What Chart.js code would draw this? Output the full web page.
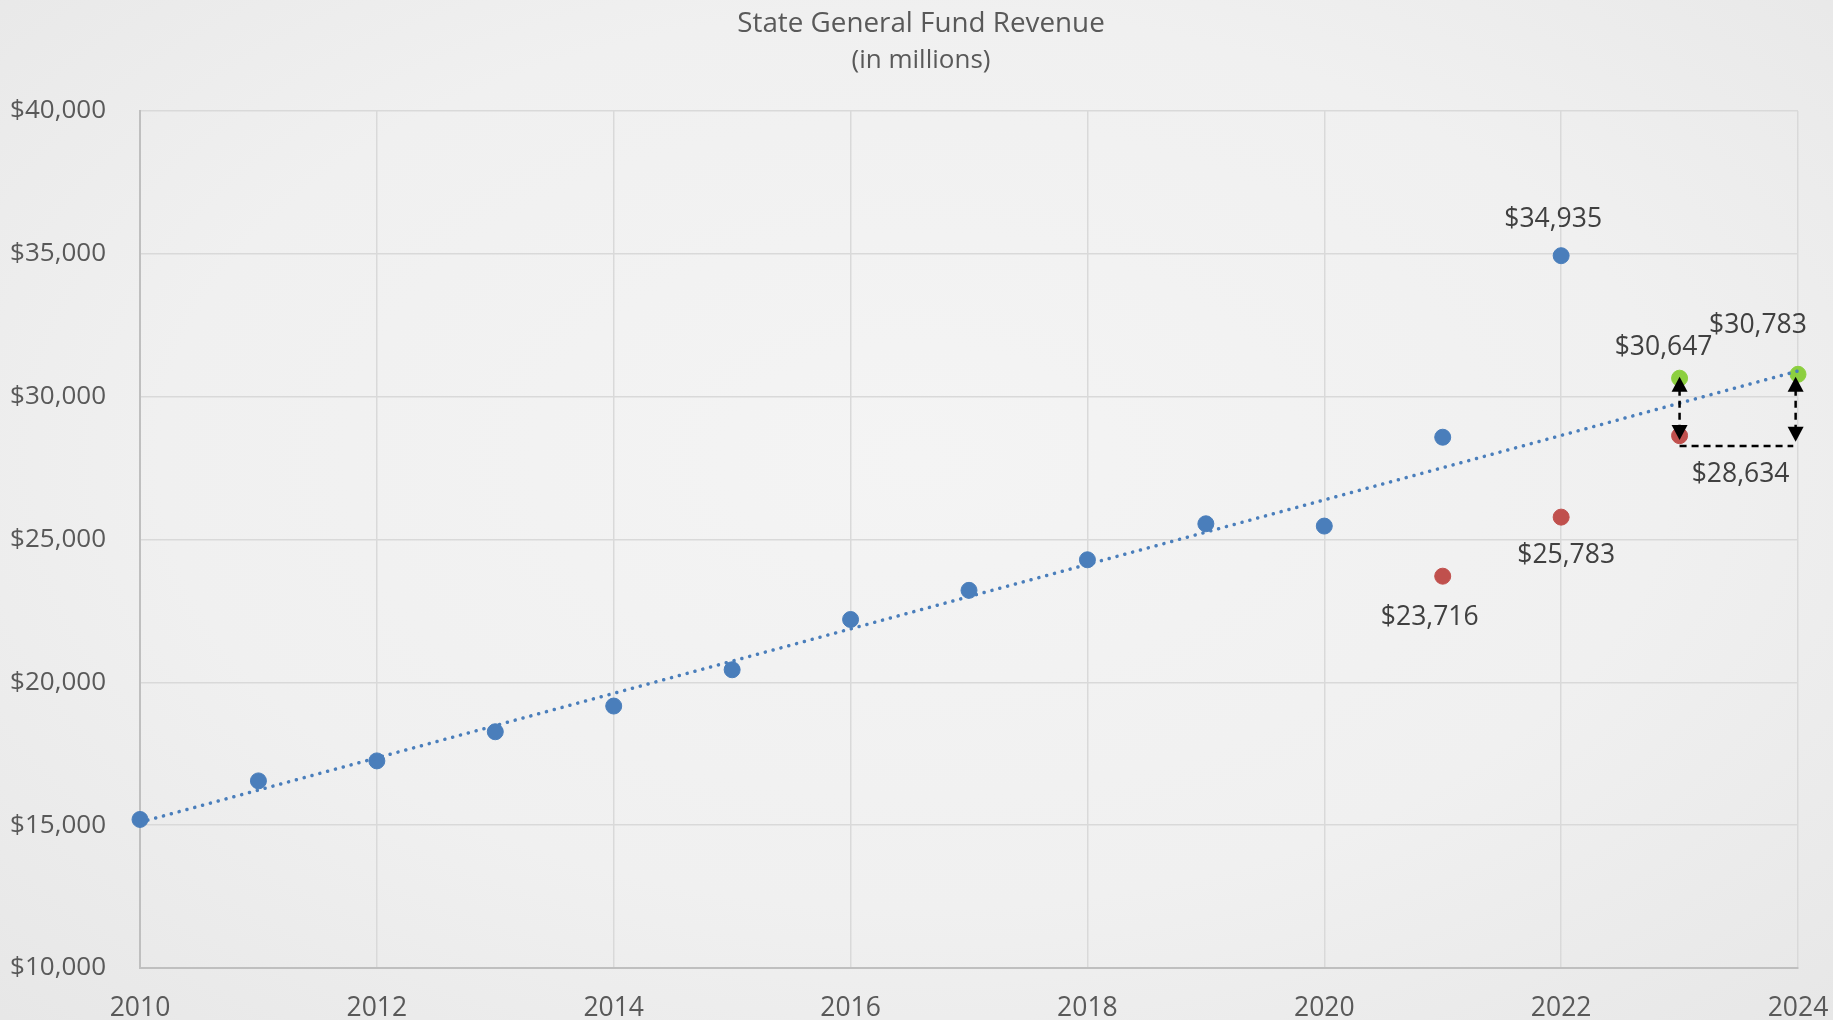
<!DOCTYPE html>
<html>
<head>
<meta charset="utf-8">
<script src="https://cdn.jsdelivr.net/npm/chart.js@4.4.1/dist/chart.umd.min.js"></script>
<style>
  html, body { margin: 0; padding: 0; }
  body {
    width: 1833px; height: 1020px; overflow: hidden;
    background: radial-gradient(ellipse 75% 80% at 50% 45%, #f4f4f4 0%, #f0f0f0 55%, #e6e6e6 100%);
  }
  #wrap { position: relative; width: 1833px; height: 1020px; }
</style>
</head>
<body>
<div id="wrap"><canvas id="c" width="1833" height="1020"></canvas></div>
<script>
// ---- Data ----
const chartTitle = 'State General Fund Revenue';
const chartSubtitle = '(in millions)';
const actualYears = [2010, 2011, 2012, 2013, 2014, 2015, 2016, 2017, 2018, 2019, 2020, 2021, 2022];
const actualRevenue = [15200, 16550, 17250, 18270, 19170, 20440, 22200, 23220, 24290, 25550, 25470, 28580, 34935];
const lowYears = [2021, 2022, 2023];
const lowRevenue = [23716, 25783, 28634];
const highYears = [2023, 2024];
const highRevenue = [30647, 30783];
const trendYears = [2010, 2024];
const trendRevenue = [15100, 30900];
const xTicks = [2010, 2012, 2014, 2016, 2018, 2020, 2022, 2024];
const yMin = 10000, yMax = 40000, yStep = 5000;
// arrows: [year, fromValue, toValue]
const arrowYears = [2023, 2023.98];
const arrowTop = [30700, 30700];
const arrowBottom = [28480, 28420];
const gapLineValue = 28273;
const gapLineYears = [2023, 2023.96];

const fmt = v => '$' + v.toLocaleString('en-US');
const toPts = (xs, ys) => xs.map((x, i) => ({ x: x, y: ys[i] }));

const FONT = "'Open Sans', 'Liberation Sans', sans-serif";

// label specs: dataset index, point index, dx, dy
const labelSpecs = [
  { ds: 1, i: 12, dx: -8, dy: -36 },
  { ds: 2, i: 0, dx: -13, dy: 41 },
  { ds: 2, i: 1, dx: 5, dy: 38 },
  { ds: 2, i: 2, dx: 61, dy: 39 },
  { ds: 3, i: 0, dx: -16, dy: -31 },
  { ds: 3, i: 1, dx: -40, dy: -49 }
];

const titlePlugin = {
  id: 'titles',
  beforeDraw(chart) {
    const ctx = chart.ctx;
    ctx.save();
    ctx.fillStyle = '#595959';
    ctx.textAlign = 'center';
    ctx.textBaseline = 'middle';
    ctx.font = '27.8px ' + FONT;
    ctx.fillText(chartTitle, 921, 24);
    ctx.font = '26px ' + FONT;
    ctx.fillText(chartSubtitle, 921, 61);
    ctx.restore();
  }
};

const labelPlugin = {
  id: 'pointLabels',
  afterDatasetsDraw(chart) {
    const ctx = chart.ctx;
    ctx.save();
    ctx.fillStyle = '#404040';
    ctx.font = '26.5px ' + FONT;
    ctx.textAlign = 'center';
    ctx.textBaseline = 'middle';
    labelSpecs.forEach(s => {
      const el = chart.getDatasetMeta(s.ds).data[s.i];
      const v = chart.data.datasets[s.ds].data[s.i].y;
      ctx.fillText(fmt(v), el.x + s.dx, el.y + s.dy);
    });
    ctx.restore();
  }
};

function arrowHead(ctx, x, y, dir) {
  const w = 8, h = 15;
  ctx.beginPath();
  ctx.moveTo(x, y);
  ctx.lineTo(x - w, y - dir * h);
  ctx.lineTo(x + w, y - dir * h);
  ctx.closePath();
  ctx.fill();
}

const arrowPlugin = {
  id: 'arrows',
  afterDatasetsDraw(chart) {
    const ctx = chart.ctx;
    const xs = chart.scales.x, ys = chart.scales.y;
    ctx.save();
    ctx.strokeStyle = '#000';
    ctx.fillStyle = '#000';
    ctx.lineWidth = 2.5;
    ctx.setLineDash([7, 5]);
    arrowYears.forEach((yr, k) => {
      const x = xs.getPixelForValue(yr);
      const yt = ys.getPixelForValue(arrowTop[k]);
      const yb = ys.getPixelForValue(arrowBottom[k]);
      ctx.beginPath();
      ctx.moveTo(x, yt + 12);
      ctx.lineTo(x, yb - 12);
      ctx.stroke();
      ctx.setLineDash([]);
      arrowHead(ctx, x, yt, -1);
      arrowHead(ctx, x, yb, 1);
      ctx.setLineDash([7, 5]);
    });
    const gy = ys.getPixelForValue(gapLineValue);
    ctx.beginPath();
    ctx.moveTo(xs.getPixelForValue(gapLineYears[0]), gy);
    ctx.lineTo(xs.getPixelForValue(gapLineYears[1]), gy);
    ctx.stroke();
    ctx.restore();
  }
};

new Chart(document.getElementById('c'), {
  type: 'scatter',
  data: {
    datasets: [
      {
        type: 'line',
        label: 'Trend',
        data: toPts(trendYears, trendRevenue),
        borderColor: '#4a7ebb',
        borderWidth: 3.5,
        borderDash: [0.1, 8],
        borderCapStyle: 'round',
        pointRadius: 0,
        fill: false,
        clip: false,
        order: 0
      },
      {
        label: 'Actual',
        data: toPts(actualYears, actualRevenue),
        backgroundColor: '#4a7ebb',
        borderColor: '#4a7ebb',
        pointRadius: 8,
        clip: false,
        order: 1
      },
      {
        label: 'Low',
        data: toPts(lowYears, lowRevenue),
        backgroundColor: '#c0504d',
        borderColor: '#c0504d',
        pointRadius: 8,
        clip: false,
        order: 1
      },
      {
        label: 'High',
        data: toPts(highYears, highRevenue),
        backgroundColor: '#8ccf3f',
        borderColor: '#8ccf3f',
        pointRadius: 8,
        clip: false,
        order: 1
      }
    ]
  },
  options: {
    responsive: false,
    animation: false,
    events: [],
    layout: { padding: { top: 111, right: 35, left: 0, bottom: 0 } },
    plugins: {
      legend: { display: false },
      tooltip: { enabled: false },
      title: { display: false }
    },
    scales: {
      x: {
        type: 'linear',
        min: 2010, max: 2024,
        afterBuildTicks(axis) { axis.ticks = xTicks.map(v => ({ value: v })); },
        afterFit(axis) { axis.height = 52; axis.paddingLeft = 0; axis.paddingRight = 0; },
        grid: { color: '#d9d9d9', lineWidth: 1.5, drawTicks: false },
        border: { color: '#bfbfbf', width: 2 },
        ticks: {
          padding: 25,
          color: '#595959',
          font: { family: FONT, size: 26.5 },
          callback: v => String(v),
          maxRotation: 0
        }
      },
      y: {
        min: yMin, max: yMax,
        afterFit(axis) { axis.width = 140; axis.paddingTop = 0; axis.paddingBottom = 0; },
        grid: { color: '#d9d9d9', lineWidth: 1.5, drawTicks: false },
        border: { color: '#bfbfbf', width: 2 },
        ticks: {
          stepSize: yStep,
          padding: 34,
          color: '#595959',
          font: { family: FONT, size: 26 },
          callback: v => fmt(v)
        }
      }
    }
  },
  plugins: [titlePlugin, labelPlugin, arrowPlugin]
});
</script>
</body>
</html>
